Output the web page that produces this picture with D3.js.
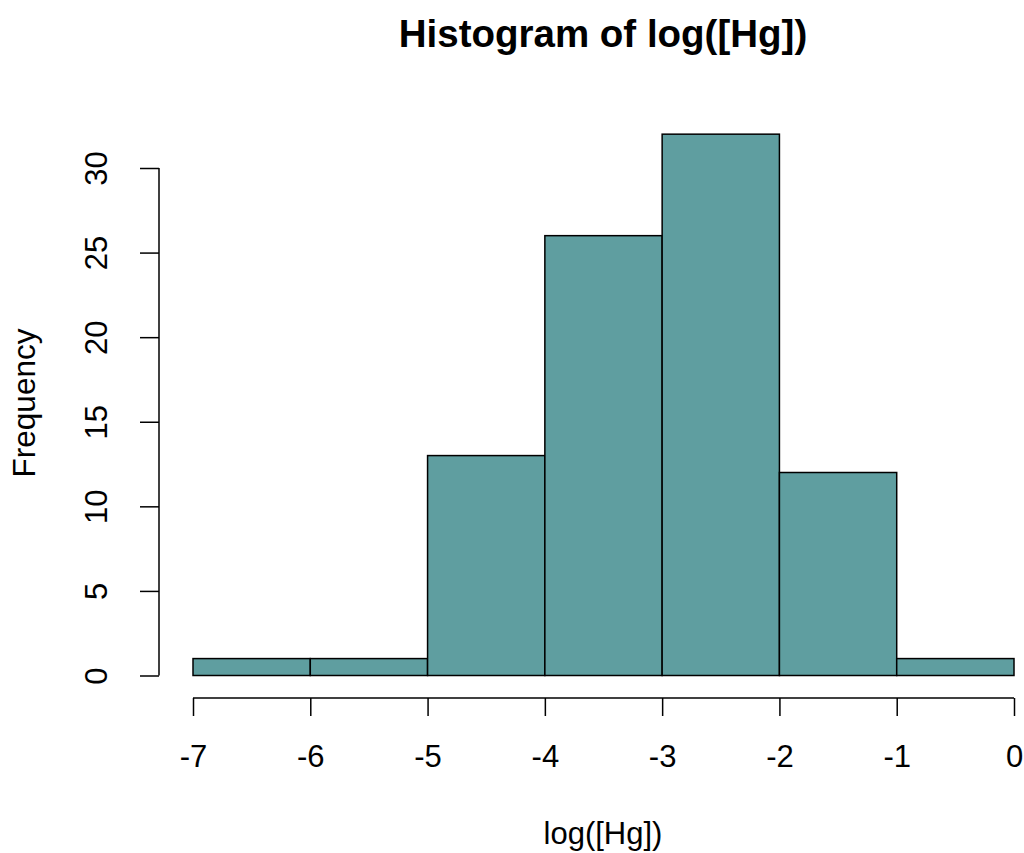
<!DOCTYPE html>
<html>
<head>
<meta charset="utf-8">
<script src="https://cdn.jsdelivr.net/npm/d3@7"></script>
<style>
  body { margin: 0; background: #fff; }
  text { font-family: "Liberation Sans", Arial, sans-serif; fill: #000; }
</style>
</head>
<body>
<div id="chart"></div>
<script>
var width = 1024, height = 853;

// histogram bins and counts
var binStarts = [-7, -6, -5, -4, -3, -2, -1];
var binWidth = 1;
var counts = [1, 1, 13, 26, 32, 12, 1];
var xTicks = [-7, -6, -5, -4, -3, -2, -1, 0];
var yTicks = [0, 5, 10, 15, 20, 25, 30];

var x = d3.scaleLinear().domain([-7, 0]).range([193, 1014]);
var y = d3.scaleLinear().domain([0, 30]).range([675.5, 168]);

var svg = d3.select("#chart").append("svg")
  .attr("width", width)
  .attr("height", height);

var bins = binStarts.map(function(s, i) { return { x0: s, x1: s + binWidth, n: counts[i] }; });

svg.append("g").selectAll("rect")
  .data(bins)
  .enter().append("rect")
  .attr("x", d => x(d.x0))
  .attr("y", d => y(d.n))
  .attr("width", d => x(d.x1) - x(d.x0))
  .attr("height", d => y(0) - y(d.n))
  .attr("fill", "#5F9EA0")
  .attr("stroke", "#000")
  .attr("stroke-width", 1.5);

// x axis
var xAxis = svg.append("g")
  .attr("transform", "translate(0,698)")
  .call(d3.axisBottom(x).tickValues(xTicks).tickSize(18).tickFormat(d => String(d)));
xAxis.select(".domain").attr("d", "M" + x(-7) + ",0H" + x(0)).attr("stroke-width", 1.5);
xAxis.selectAll(".tick line").attr("stroke-width", 1.5);
xAxis.selectAll("text")
  .style("font-size", "31px")
  .attr("y", 69).attr("dy", null);

// y axis
var yAxis = svg.append("g")
  .attr("transform", "translate(159,0)")
  .call(d3.axisLeft(y).tickValues(yTicks).tickSize(19).tickFormat(d => String(d)));
yAxis.select(".domain").attr("d", "M0," + y(0) + "V" + y(30)).attr("stroke-width", 1.5);
yAxis.selectAll(".tick line").attr("stroke-width", 1.5);
yAxis.selectAll("text")
  .style("font-size", "31px")
  .attr("x", null).attr("dy", null)
  .attr("text-anchor", "middle")
  .attr("transform", "translate(-52,0) rotate(-90)");

svg.append("text")
  .attr("x", 603).attr("y", 47)
  .attr("text-anchor", "middle")
  .style("font-size", "38.5px").style("font-weight", "bold")
  .text("Histogram of log([Hg])");

svg.append("text")
  .attr("x", 603).attr("y", 844)
  .attr("text-anchor", "middle")
  .style("font-size", "31px")
  .text("log([Hg])");

svg.append("text")
  .attr("transform", "translate(35,403) rotate(-90)")
  .attr("text-anchor", "middle")
  .style("font-size", "31.5px")
  .text("Frequency");
</script>
</body>
</html>
